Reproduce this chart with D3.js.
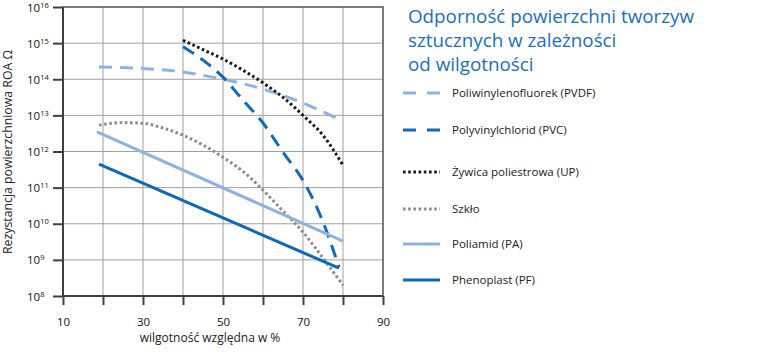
<!DOCTYPE html>
<html><head><meta charset="utf-8">
<script src="https://cdn.jsdelivr.net/npm/d3@7"></script>
<style>body{margin:0;background:#fff}svg{display:block;font-family:"Open Sans",sans-serif}</style>
</head><body><svg id="c" width="760" height="356"></svg>
<script>
const xTicks=[10,20,30,40,50,60,70,80,90];
const xLabels=[10,30,50,70,90];
const yExps=[8,9,10,11,12,13,14,15,16];
const seriesNames=["Poliwinylenofluorek (PVDF)","Polyvinylchlorid (PVC)","Żywica poliestrowa (UP)","Szkło","Poliamid (PA)","Phenoplast (PF)"];
// x = wilgotność %, y = log10(rezystancja)
const pvdf=[[19,14.34],[30,14.3],[40,14.2],[50,14.0],[60,13.73],[70,13.34],[80,12.84]];
const pvc=[[40,14.9],[45,14.53],[50,14.06],[55,13.42],[60,12.79],[65,11.98],[70,11.2],[75,10.05],[79,8.8]];
const up=[[40,15.08],[45,14.82],[50,14.56],[55,14.25],[60,13.9],[65,13.5],[70,13.0],[75,12.45],[80,11.62]];
const szklo=[[19,12.73],[25,12.8],[30,12.78],[35,12.65],[40,12.45],[45,12.18],[50,11.84],[55,11.45],[60,10.93],[65,10.35],[70,9.77],[75,9.05],[80,8.3]];
const pa=[[18.5,12.54],[80,9.52]];
const pf=[[19,11.65],[79,8.77]];
const seriesData=[pvdf,pvc,up,szklo,pa,pf];
const titleLines=["Odporność powierzchni tworzyw","sztucznych w zależności","od wilgotności"];

const styles=[
 {c:"#8db3e2",d:"13,8",w:3},
 {c:"#1068bf",d:"13,8",w:3},
 {c:"#1a1a1a",d:"2.6,2.6",w:3},
 {c:"#8c8c8c",d:"2.6,2.6",w:3},
 {c:"#8db3e2",d:null,w:3},
 {c:"#0e67b8",d:null,w:3}
];
const svg=d3.select("#c");
const L=63,R=383,T=7,B=296;
const x=d3.scaleLinear().domain([10,90]).range([L,R]);
const y=d3.scaleLinear().domain([8,16]).range([B,T]);

// grid
svg.append("g").selectAll("line").data(xTicks.slice(1,-1)).join("line")
 .attr("x1",d=>x(d)).attr("x2",d=>x(d)).attr("y1",T).attr("y2",B)
 .attr("stroke","#a0a0a0").attr("stroke-width",1);
svg.append("g").selectAll("line").data(yExps.slice(1,-1)).join("line")
 .attr("y1",d=>y(d)).attr("y2",d=>y(d)).attr("x1",L).attr("x2",R)
 .attr("stroke","#a0a0a0").attr("stroke-width",1);
// frame
svg.append("rect").attr("x",L).attr("y",T).attr("width",R-L).attr("height",B-T)
 .attr("fill","none").attr("stroke","#505050").attr("stroke-width",1.5);
svg.append("line").attr("x1",L).attr("x2",L).attr("y1",T).attr("y2",B).attr("stroke","#404040").attr("stroke-width",2);
svg.append("line").attr("x1",L).attr("x2",R).attr("y1",B).attr("y2",B).attr("stroke","#404040").attr("stroke-width",2);

// axes via d3
const xAxis=d3.axisBottom(x).tickValues(xTicks).tickSize(9).tickFormat(d=>xLabels.includes(d)?d:"");
const gx=svg.append("g").attr("transform",`translate(0,${B})`).call(xAxis);
gx.select(".domain").remove();
gx.selectAll(".tick line").attr("stroke","#404040").attr("stroke-width",2);
gx.selectAll(".tick text").attr("font-size",11.5).attr("fill","#111").attr("font-family","Open Sans").attr("dy","1.6em");

const yAxis=d3.axisLeft(y).tickValues(yExps).tickSize(10).tickFormat("");
const gy=svg.append("g").attr("transform",`translate(${L},0)`).call(yAxis);
gy.select(".domain").remove();
gy.selectAll(".tick line").attr("stroke","#404040").attr("stroke-width",2);
const yl=svg.append("g").selectAll("text").data(yExps).join("text")
 .attr("x",27).attr("y",d=>y(d)+4.5).attr("font-size",11.5).attr("fill","#111");
yl.append("tspan").text("10");
yl.append("tspan").attr("font-size",7.5).attr("dy",-4).text(d=>d);

// axis titles
svg.append("text").attr("x",210).attr("y",342).attr("text-anchor","middle").attr("font-size",12).attr("fill","#222").text("wilgotność względna w %");
svg.append("text").attr("transform","translate(12,152) rotate(-90)").attr("text-anchor","middle").attr("font-size",12.3).attr("fill","#222").text("Rezystancja powierzchniowa ROA Ω");

// series
const line=d3.line().x(d=>x(d[0])).y(d=>y(d[1])).curve(d3.curveMonotoneX);
seriesData.forEach((s,i)=>{
 const st=styles[i];
 svg.append("path").datum(s).attr("d",line).attr("fill","none")
  .attr("stroke",st.c).attr("stroke-width",st.w)
  .attr("stroke-dasharray",st.d);
});

// title
svg.append("g").selectAll("text").data(titleLines).join("text")
 .attr("x",408).attr("y",(d,i)=>23+i*24).attr("font-size",18.8).attr("fill","#1a6fc2").text(d=>d);

// legend
const legY=[93,130,172,209,244,280];
const lg=svg.append("g").selectAll("g").data(seriesNames).join("g")
 .attr("transform",(d,i)=>`translate(403,${legY[i]})`);
lg.append("line").attr("x1",0).attr("x2",37).attr("y1",0).attr("y2",0)
 .attr("stroke",(d,i)=>styles[i].c).attr("stroke-width",3)
 .attr("stroke-dasharray",(d,i)=>styles[i].d?(i<2?"13,11":"2.6,2.6"):null);
lg.append("text").attr("x",49).attr("y",4).attr("font-size",11.5).attr("fill","#222").text(d=>d);
</script></body></html>
